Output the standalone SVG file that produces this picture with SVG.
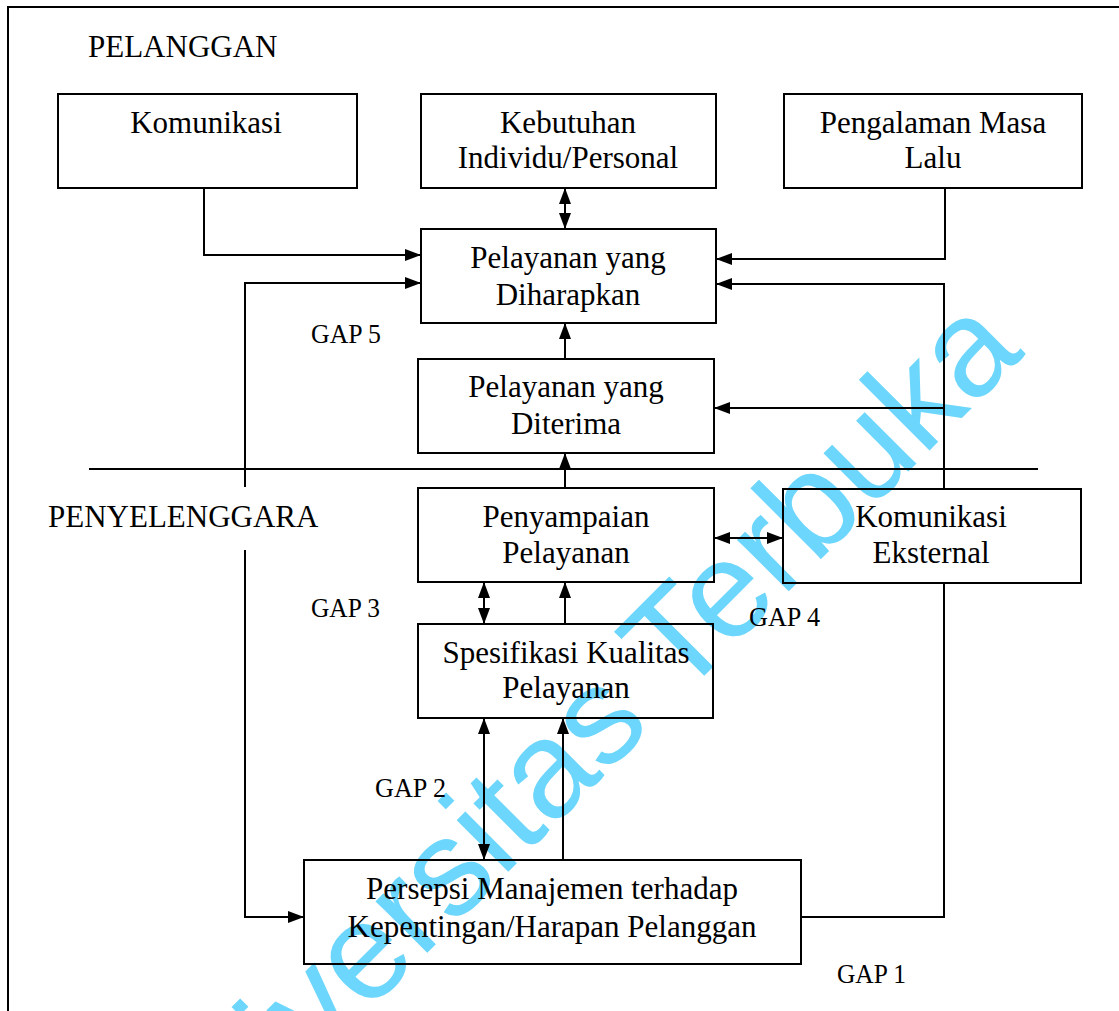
<svg xmlns="http://www.w3.org/2000/svg" width="1119" height="1011" viewBox="0 0 1119 1011">
<defs>
<marker id="ah" markerUnits="userSpaceOnUse" markerWidth="16" markerHeight="12" refX="16" refY="6" orient="auto-start-reverse">
<path d="M0,0 L16,6 L0,12 z" fill="#000"/>
</marker>
<style>
.box{fill:none;stroke:#000;stroke-width:2}
.t{font-family:"Liberation Serif","Times New Roman",serif;font-size:31px;fill:#000;text-anchor:middle}
.lbl{font-family:"Liberation Serif","Times New Roman",serif;font-size:31px;fill:#000}
.gap{font-family:"Liberation Serif","Times New Roman",serif;font-size:28px;fill:#000}
.c{fill:none;stroke:#000;stroke-width:2}
.a{marker-end:url(#ah)}
.d{marker-start:url(#ah);marker-end:url(#ah)}
</style>
</defs>
<rect x="0" y="0" width="1119" height="1011" fill="#fff"/>
<text id="watermark" x="0" y="0" transform="translate(171,1209) rotate(-45)" font-family="Liberation Sans, Arial, sans-serif" font-size="138" fill="#6cd6fc">Universitas Terbuka</text>
<path d="M8,1011 V7 H1119" class="c"/>
<text class="lbl" x="88" y="57">PELANGGAN</text>
<text class="lbl" x="48" y="527">PENYELENGGARA</text>
<g id="connectors">
<path class="c" d="M89,469 H1038"/>
<path class="c a" d="M204,188 V255 H421"/>
<path class="c d" d="M565,188 V229"/>
<path class="c a" d="M945,188 V259 H716"/>
<path class="c a" d="M245,487 V283 H421"/>
<path class="c a" d="M245,550 V917 H304"/>
<path class="c" d="M801,917 H944 V583"/>
<path class="c a" d="M944,489 V284 H716"/>
<path class="c a" d="M944,408 H714"/>
<path class="c a" d="M565,359 V323"/>
<path class="c a" d="M565,488 V453"/>
<path class="c d" d="M714,538 H783"/>
<path class="c d" d="M484,582 V624"/>
<path class="c a" d="M565,624 V582"/>
<path class="c d" d="M484,718 V860"/>
<path class="c a" d="M563,860 V718"/>
</g>
<g id="n-komunikasi"><rect class="box" x="58" y="94" width="299" height="94"/><text class="t" x="206" y="133">Komunikasi</text></g>
<g id="n-kebutuhan"><rect class="box" x="421" y="94" width="295" height="94"/><text class="t" x="568" y="133">Kebutuhan</text><text class="t" x="568" y="168">Individu/Personal</text></g>
<g id="n-pengalaman"><rect class="box" x="784" y="94" width="298" height="94"/><text class="t" x="933" y="133">Pengalaman Masa</text><text class="t" x="933" y="168">Lalu</text></g>
<g id="n-diharapkan"><rect class="box" x="421" y="229" width="295" height="94"/><text class="t" x="568" y="268">Pelayanan yang</text><text class="t" x="568" y="305">Diharapkan</text></g>
<g id="n-diterima"><rect class="box" x="418" y="359" width="296" height="94"/><text class="t" x="566" y="397">Pelayanan yang</text><text class="t" x="566" y="434">Diterima</text></g>
<g id="n-penyampaian"><rect class="box" x="418" y="488" width="296" height="94"/><text class="t" x="566" y="527">Penyampaian</text><text class="t" x="566" y="563">Pelayanan</text></g>
<g id="n-komeksternal"><rect class="box" x="783" y="489" width="298" height="94"/><text class="t" x="931" y="527">Komunikasi</text><text class="t" x="931" y="563">Eksternal</text></g>
<g id="n-spesifikasi"><rect class="box" x="418" y="624" width="295" height="94"/><text class="t" x="566" y="663">Spesifikasi Kualitas</text><text class="t" x="566" y="698">Pelayanan</text></g>
<g id="n-persepsi"><rect class="box" x="304" y="860" width="497" height="104"/><text class="t" x="552" y="899">Persepsi Manajemen terhadap</text><text class="t" x="552" y="937">Kepentingan/Harapan Pelanggan</text></g>
<g id="gaps">
<text class="gap" x="311" y="343" textLength="70" lengthAdjust="spacingAndGlyphs">GAP 5</text>
<text class="gap" x="311" y="617" textLength="69" lengthAdjust="spacingAndGlyphs">GAP 3</text>
<text class="gap" x="375" y="797" textLength="71" lengthAdjust="spacingAndGlyphs">GAP 2</text>
<text class="gap" x="749" y="626" textLength="71" lengthAdjust="spacingAndGlyphs">GAP 4</text>
<text class="gap" x="837" y="983" textLength="69" lengthAdjust="spacingAndGlyphs">GAP 1</text>
</g>
</svg>
